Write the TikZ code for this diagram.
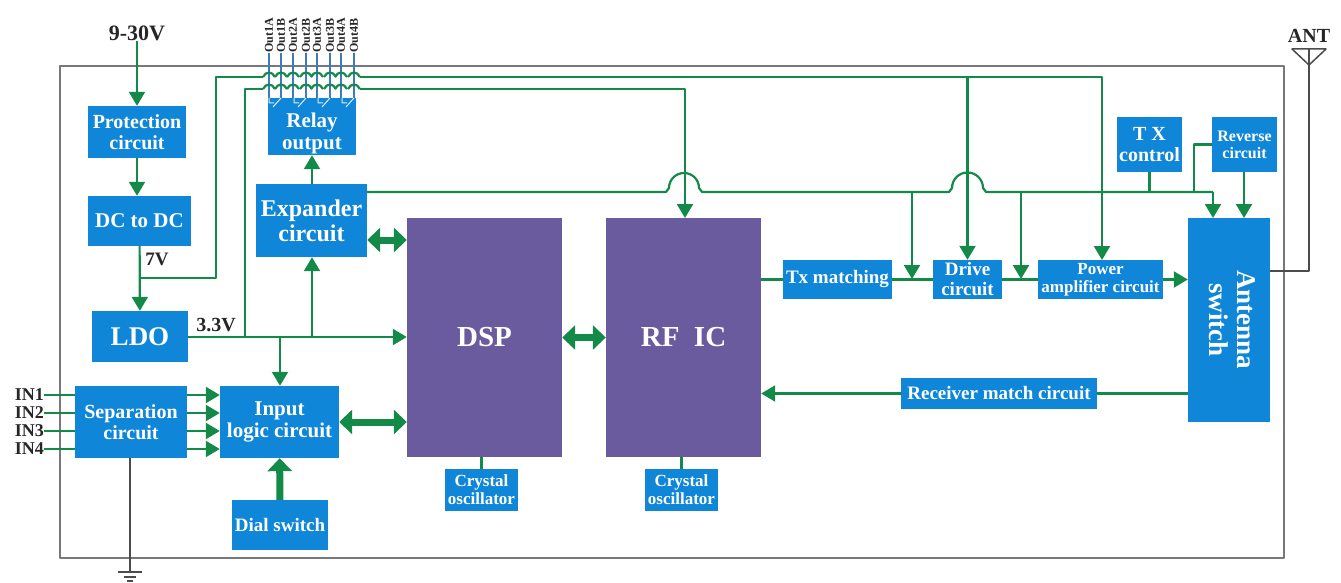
\documentclass[tikz,border=0pt]{standalone}
\usepackage{fontspec}
\setmainfont{Liberation Serif}
\usetikzlibrary{arrows.meta}
\definecolor{boxblue}{HTML}{0F86D8}
\definecolor{chipviolet}{HTML}{6A5B9F}
\definecolor{wiregreen}{HTML}{138A48}
\definecolor{framegray}{HTML}{77777C}
\definecolor{relayblue}{HTML}{3F79C0}
\begin{document}
\begin{tikzpicture}[x=1pt,y=-1pt,line join=round,>={Triangle[length=14pt,width=16pt]}]
	\tikzset{blk/.style={fill=boxblue,text=white,font=\bfseries\fontsize{#1}{\numexpr#1+1\relax}\selectfont,align=center,inner sep=0pt}}
	\tikzset{blk/.default=20}
	\tikzset{chip/.style={fill=chipviolet,text=white,font=\bfseries\fontsize{29}{31}\selectfont,minimum width=155pt,minimum height=239pt,inner sep=0pt}}
	\tikzset{lab/.style={font=\bfseries\fontsize{#1}{#1}\selectfont,text=black!85,inner sep=0pt}}
	\tikzset{wire/.style={draw=wiregreen,line width=2.2pt}}
	\tikzset{fat/.style={draw=wiregreen,line width=7pt,>={Triangle[length=13pt,width=24pt]}}}
	\tikzset{gnd/.style={draw=black!70,line width=1.5pt}}
	\useasboundingbox (0,0) rectangle (1341,583);
	\fill[white] (0,0) rectangle (1341,583);
	\draw[framegray,line width=1.5pt] (60,66) rectangle (1284,558);
	% blocks
	\node[blk,minimum width=98pt,minimum height=52pt] (prot) at (137,132) {Protection\\circuit};
	\node[blk=21,minimum width=103pt,minimum height=50pt] (dcdc) at (139.5,221) {DC to DC};
	\node[blk=27,minimum width=96pt,minimum height=51pt] (ldo) at (140,336.5) {LDO};
	\node[blk,minimum width=88pt,minimum height=57pt] (relay) at (312,126.5) {};
	\node[blk=21,fill=none] (relaytxt) at (312,133) {Relay\\output};
	\node[blk=24,minimum width=111pt,minimum height=73pt] (expander) at (311.5,220.5) {Expander\\circuit};
	\node[chip] (dsp) at (484.5,337.5) {DSP};
	\node[chip] (rfic) at (683.5,337.5) {RF\ \ IC};
	\node[blk,minimum width=112pt,minimum height=72pt] (sep) at (131,422) {Separation\\circuit};
	\node[blk=21,minimum width=119pt,minimum height=72pt] (logic) at (279.5,422) {Input\\logic circuit};
	\node[blk=19,minimum width=96pt,minimum height=50pt] (dial) at (280,525) {Dial switch};
	\node[blk=17,minimum width=73pt,minimum height=42pt] (xtal1) at (481.5,490) {Crystal\\oscillator};
	\node[blk=17,minimum width=73pt,minimum height=42pt] (xtal2) at (681.5,490) {Crystal\\oscillator};
	\node[blk=19,minimum width=109pt,minimum height=39pt] (txm) at (837.5,279.5) {Tx matching};
	\node[blk=19,minimum width=69pt,minimum height=39pt] (drive) at (967.5,279.5) {Drive\\circuit};
	\node[blk=17,minimum width=125pt,minimum height=39pt] (pa) at (1100.5,279.5) {Power\\amplifier circuit};
	\node[blk,minimum width=65pt,minimum height=55pt] (txc) at (1149.5,144.5) {T X\\control};
	\node[blk=16,minimum width=65pt,minimum height=55pt] (rev) at (1244.5,144.5) {Reverse\\circuit};
	\node[blk=27,minimum width=82pt,minimum height=204pt] (antsw) at (1229,320) {\rotatebox{-90}{\begin{tabular}{@{}c@{}}Antenna\\switch\end{tabular}}};
	\node[blk=19,minimum width=196pt,minimum height=31pt] (rxm) at (999,393.5) {Receiver match circuit};
	% labels
	\node[lab=22] (vin) at (137,33) {9-30V};
	\node[lab=19] (lab7v) at (157,259) {7V};
	\node[lab=20] (lab33) at (216,325) {3.3V};
	\node[lab=20] (ant) at (1309,36) {ANT};
	\foreach \n/\y in {1/395,2/413,3/431,4/449}{
		\node[lab=18,anchor=east] (in\n) at (44,\y) {IN\n};
		\draw[wire] (in\n.east) -- (sep.west |- in\n.east);
		\coordinate (s\n) at (187,\y);
		\draw[wire,->] (s\n) -- (logic.west |- s\n);
	}
	% relay outputs
	\foreach \n/\t/\x in {1/Out1A/269,2/Out1B/281,3/Out2A/293,4/Out2B/306,5/Out3A/317,6/Out3B/330,7/Out4A/341,8/Out4B/354}{
		\node[lab=12,rotate=90,anchor=west] (o\n) at (\x,53) {\t};
		\draw[relayblue,line width=1.2pt] (o\n.west) -- (\x,98);
	}
	\foreach \x in {281,306,330,354}
		\draw[white!85!boxblue,line width=1pt] (\x,98) -- (\x-8,107) (\x-12,98) -- (\x-12,103) -- (\x-7,103);
	% supply wires
	\draw[wire,->] (vin) -- (prot);
	\draw[wire,->] (prot.south) -- (prot.south |- dcdc.north);
	\draw[wire,->] (dcdc) -- (ldo);
	\coordinate (tap7) at (140,278);
	\coordinate (tap33) at (245,337);
	\coordinate (tapexp) at (312,337);
	\coordinate (taplog) at (280,337);
	\coordinate (hopa) at (263,77);
	\coordinate (hopb) at (360,77);
	\coordinate (hopd) at (263,89);
	\coordinate (hope) at (360,89);
	\coordinate (tapdrive) at (967.5,77);
	\coordinate (taprev) at (1194,144.5);
	\draw[wire] (tap7) -- (216,278) -- (216,77) -- (hopa);
	\draw[wire,->] (hopb) -- (1102,77) -- (1102,260);
	\draw[wire,->] (tapdrive) -- (drive);
	\draw[wire] (tap33) -- (245,89) -- (hopd);
	\foreach \x in {269,281,293,306,317,330,341,354}{
		\draw[wire] (\x-6,77) .. controls (\x-3,71) and (\x+3,71) .. (\x+6,77);
		\draw[wire] (\x-6,89) .. controls (\x-3,83) and (\x+3,83) .. (\x+6,89);
	}
	\draw[wire,->] (hope) -- (685,89) -- (685,218);
	\draw[wire,->] (ldo.east |- tap33) -- (dsp.west |- tap33);
	\draw[wire,->] (tapexp) -- (expander.south -| tapexp);
	\draw[wire,->] (taplog) -- (taplog |- logic.north);
	\draw[wire,->] (expander.north -| relay) -- (relay);
	% expander bus with hops
	\coordinate (bus) at (367,192);
	\draw[wire] (bus) -- (666,192) -- (669,188) arc[start angle=180,end angle=0,radius=15pt] -- (702,192)
		-- (949,192) -- (952,188) arc[start angle=180,end angle=0,radius=15.5pt] -- (986,192) -- (1213,192);
	\draw[wire,->] (1213,192) -- (1213,218);
	\draw[wire,->] (912,192) -- (912,279);
	\draw[wire,->] (1021,192) -- (1021,279);
	\draw[wire] (txc) -- (txc |- bus);
	\draw[wire] (rev.west) -- (taprev) -- (1194,192);
	\draw[wire,->] (1244,172) -- (1244,218);
	\draw[wire] (rfic.east |- txm) -- (txm);
	\draw[wire] (txm) -- (drive);
	\draw[wire] (drive) -- (pa);
	\draw[wire,->] (pa.east) -- (antsw.west |- pa.east);
	\draw[wire,->] (rxm) -- (rfic.east |- rxm);
	\draw[wire] (rxm) -- (antsw.west |- rxm);
	\draw[wire] (dsp.south -| xtal1) -- (xtal1);
	\draw[wire] (rfic.south -| xtal2) -- (xtal2);
	% fat arrows
	\draw[fat,<->] (expander.east |- 0,240) -- (dsp.west |- 0,240);
	\draw[fat,<->] (dsp) -- (rfic);
	\draw[fat,<->] (logic) -- (dsp.west |- logic);
	\draw[fat,->] (dial) -- (logic);
	% antenna and ground
	\coordinate (anttop) at (1309,49);
	\draw[gnd] (antsw.east |- 0,271) -- (1309,271) -- (anttop);
	\draw[gnd] (1292,49) -- (1326,49) -- (1309,65) -- cycle;
	\coordinate (gndp) at (130,572);
	\draw[gnd] (sep.south -| gndp) -- (gndp);
	\draw[gnd] (118,572) -- (142,572) (124,577) -- (136,577) (127,581) -- (133,581);
\end{tikzpicture}
\end{document}
